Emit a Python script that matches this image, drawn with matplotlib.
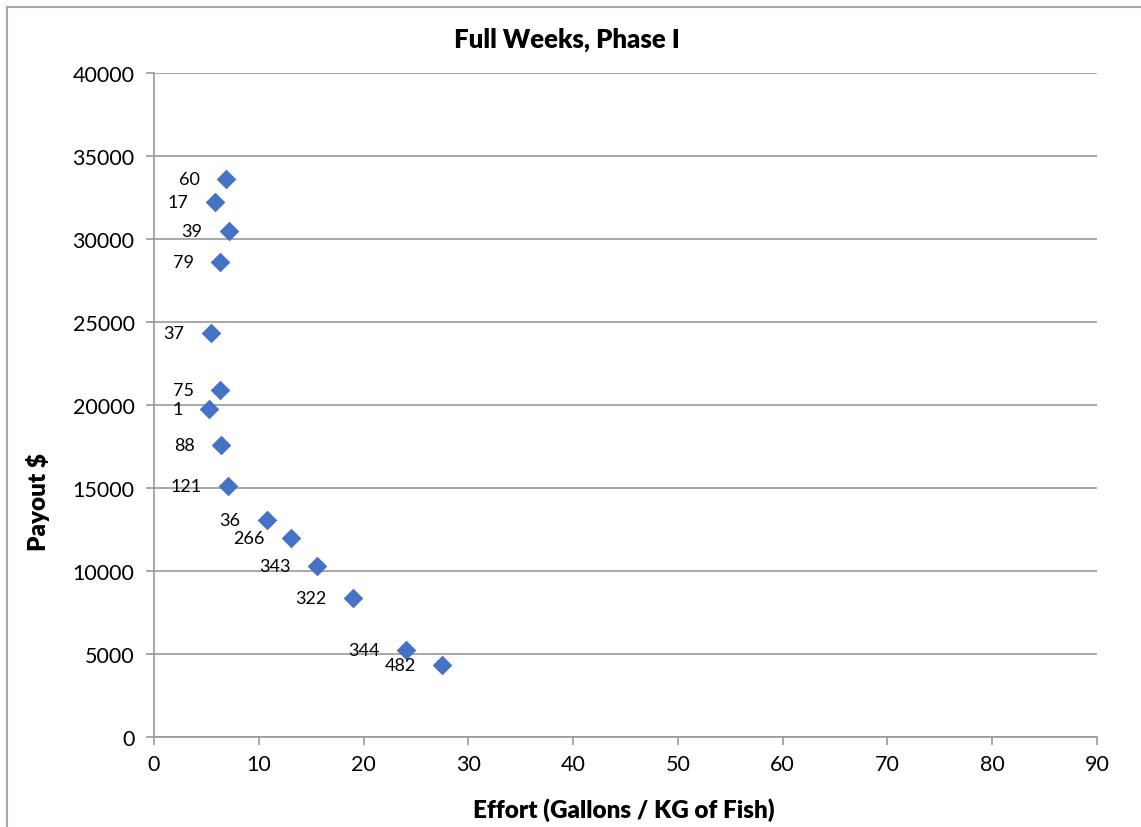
import matplotlib.pyplot as plt
from matplotlib.patches import Rectangle

# data
labels = ["60", "17", "39", "79", "37", "75", "1", "88", "121",
          "36", "266", "343", "322", "344", "482"]
effort = [6.87, 5.82, 7.16, 6.30, 5.44, 6.30, 5.25, 6.39, 7.06,
          10.78, 13.07, 15.55, 18.99, 24.05, 27.48]
payout = [33600, 32230, 30480, 28610, 24340, 20900, 19760, 17590, 15120,
          13070, 11990, 10300, 8370, 5240, 4340]

plt.rcParams['font.family'] = ['Lato', 'DejaVu Sans']

W, H = 1141, 828
fig = plt.figure(figsize=(W / 100, H / 100), dpi=100)
ax = fig.add_axes([154 / W, 1 - 738 / H, (1097 - 154) / W, (738 - 74) / H])

# chart frame (left/top edges visible, rest cropped)
fig.patches.append(Rectangle((7 / W, -0.1), 1.2, 1 - 8 / H + 0.1,
                             transform=fig.transFigure, fill=False,
                             edgecolor='#a6a6a6', linewidth=1.5))

ax.scatter(effort, payout, marker='D', s=100, color='#4472C4', zorder=3,
           linewidths=0)
for lab, x, y in zip(labels, effort, payout):
    ax.annotate(lab, (x, y), xytext=(-19, 0), textcoords='offset points',
                ha='right', va='center', fontsize=13, color='black')

ax.set_xlim(0, 90)
ax.set_ylim(0, 40000)
ax.set_xticks(range(0, 91, 10))
ax.set_yticks(range(0, 40001, 5000))
ax.grid(axis='y', color='#9a9a9a', linewidth=1.2)
ax.set_axisbelow(True)
for s in ['top', 'right']:
    ax.spines[s].set_visible(False)
for s in ['left', 'bottom']:
    ax.spines[s].set_color('#9a9a9a')
    ax.spines[s].set_linewidth(1.2)
ax.tick_params(axis='both', colors='#9a9a9a', labelcolor='black',
               labelsize=15.5, length=6, width=1.2, direction='out')
ax.tick_params(axis='x', pad=6)
ax.tick_params(axis='y', pad=8)

fig.text(567 / W, 1 - 40 / H, "Full Weeks, Phase I", ha='center', va='center',
         fontsize=18.5, fontweight='heavy')
fig.text(624 / W, 1 - 810 / H, "Effort (Gallons / KG of Fish)", ha='center',
         va='center', fontsize=17.5, fontweight='heavy')
fig.text(38 / W, 1 - 502 / H, "Payout $", ha='center', va='center',
         rotation=90, fontsize=17.5, fontweight='heavy')

fig.savefig("out.png", dpi=100)
